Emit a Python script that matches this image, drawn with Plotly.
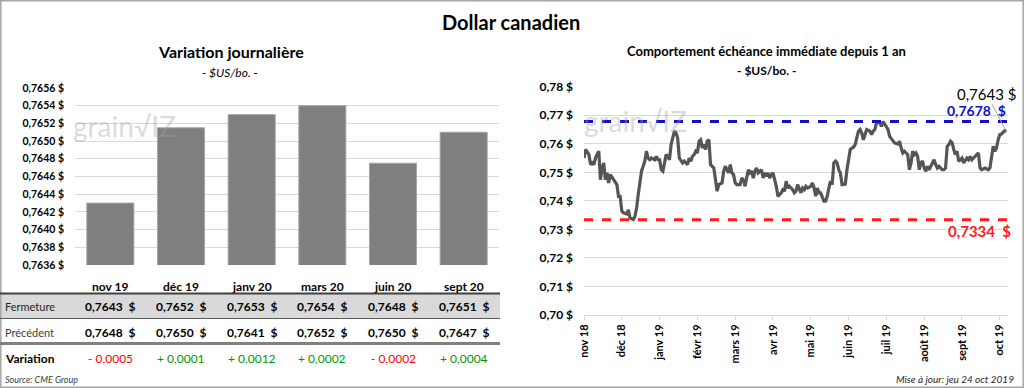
import plotly.graph_objects as go

# ---------------- Data ----------------
# Left panel: daily variation by contract month
echeances = ["nov 19", "déc 19", "janv 20", "mars 20", "juin 20", "sept 20"]
cloture = [0.7643, 0.76515, 0.7653, 0.7654, 0.76475, 0.7651]          # bar heights
fermeture = [0.7643, 0.7652, 0.7653, 0.7654, 0.7648, 0.7651]          # table (rounded)
precedent = [0.7648, 0.7650, 0.7641, 0.7652, 0.7650, 0.7647]
variation = [-0.0005, 0.0001, 0.0012, 0.0002, -0.0002, 0.0004]

# Right panel: nearby contract over 1 year (trading-session index, price)
seance = [0, 1, 3, 4, 5, 6, 7, 9, 10, 11, 12, 13, 14, 15, 16, 18, 20, 21, 22, 23,
          24, 26, 27, 28, 30, 31, 32, 33, 34, 35, 37, 38, 39, 40, 41, 43, 44, 45, 46, 47,
          48, 50, 51, 52, 53, 54, 55, 56, 57, 58, 60, 61, 63, 64, 65, 66, 67, 68, 69, 70,
          71, 72, 73, 74, 75, 76, 77, 78, 79, 80, 81, 82, 84, 85, 86, 87, 88, 89, 90, 91,
          92, 93, 95, 96, 97, 98, 99, 100, 101, 102, 103, 104, 105, 106, 108, 109, 110, 111, 112, 113,
          114, 115, 116, 117, 118, 119, 120, 121, 122, 123, 124, 125, 127, 128, 129, 130, 131, 132, 133, 134,
          135, 136, 138, 139, 140, 141, 142, 143, 144, 145, 146, 147, 148, 149, 150, 151, 152, 153, 154, 155,
          156, 157, 159, 160, 161, 162, 163, 164, 165, 166, 167, 168, 169, 170, 171, 172, 174, 175, 176, 177,
          178, 179, 180, 181, 182, 184, 185, 186, 188, 189, 191, 192, 193, 194, 195, 196, 197, 198, 199, 200,
          201, 202, 203, 204, 205, 206, 207, 208, 209, 210, 211, 212, 213, 214, 215, 216, 218, 219, 220, 221,
          222, 223, 224, 225, 226, 227, 228, 229, 230, 231, 232, 233, 234, 235, 236, 237, 238, 239, 240, 241,
          242, 244, 246, 247, 248, 249, 250, 251, 252, 253, 254, 255, 256, 257]
cours = [0.7550, 0.7580, 0.7562, 0.7527, 0.7533, 0.7527, 0.7550, 0.7574, 0.7474, 0.7515,
         0.7533, 0.7474, 0.7498, 0.7463, 0.7492, 0.7474, 0.7457, 0.7416, 0.7416, 0.7364,
         0.7358, 0.7354, 0.7369, 0.7340, 0.7334, 0.7346, 0.7375, 0.7422, 0.7463, 0.7504,
         0.7539, 0.7574, 0.7550, 0.7544, 0.7550, 0.7544, 0.7556, 0.7544, 0.7544, 0.7509,
         0.7504, 0.7562, 0.7556, 0.7544, 0.7597, 0.7626, 0.7644, 0.7638, 0.7620, 0.7550,
         0.7533, 0.7539, 0.7527, 0.7550, 0.7539, 0.7556, 0.7562, 0.7574, 0.7568, 0.7609,
         0.7614, 0.7585, 0.7597, 0.7580, 0.7609, 0.7614, 0.7527, 0.7521, 0.7515, 0.7474,
         0.7434, 0.7457, 0.7463, 0.7504, 0.7521, 0.7509, 0.7498, 0.7527, 0.7498, 0.7492,
         0.7463, 0.7457, 0.7457, 0.7480, 0.7474, 0.7451, 0.7486, 0.7509, 0.7498, 0.7504,
         0.7480, 0.7504, 0.7515, 0.7498, 0.7509, 0.7480, 0.7498, 0.7486, 0.7498, 0.7480,
         0.7492, 0.7498, 0.7474, 0.7451, 0.7416, 0.7422, 0.7428, 0.7439, 0.7434, 0.7469,
         0.7445, 0.7451, 0.7439, 0.7428, 0.7434, 0.7457, 0.7439, 0.7428, 0.7445, 0.7439,
         0.7451, 0.7445, 0.7451, 0.7463, 0.7445, 0.7416, 0.7445, 0.7428, 0.7428, 0.7416,
         0.7399, 0.7399, 0.7416, 0.7445, 0.7469, 0.7457, 0.7533, 0.7539, 0.7533, 0.7509,
         0.7498, 0.7457, 0.7459, 0.7509, 0.7544, 0.7580, 0.7585, 0.7588, 0.7597, 0.7626,
         0.7644, 0.7650, 0.7638, 0.7614, 0.7632, 0.7650, 0.7644, 0.7632, 0.7644, 0.7650,
         0.7673, 0.7676, 0.7673, 0.7661, 0.7678, 0.7661, 0.7650, 0.7626, 0.7609, 0.7603,
         0.7599, 0.7609, 0.7585, 0.7568, 0.7574, 0.7568, 0.7562, 0.7509, 0.7533, 0.7574,
         0.7562, 0.7568, 0.7556, 0.7509, 0.7533, 0.7539, 0.7515, 0.7504, 0.7521, 0.7509,
         0.7521, 0.7527, 0.7544, 0.7527, 0.7515, 0.7521, 0.7509, 0.7509, 0.7515, 0.7591,
         0.7597, 0.7609, 0.7603, 0.7580, 0.7562, 0.7574, 0.7539, 0.7544, 0.7550, 0.7533,
         0.7544, 0.7550, 0.7544, 0.7556, 0.7544, 0.7550, 0.7556, 0.7562, 0.7568, 0.7515,
         0.7509, 0.7515, 0.7509, 0.7515, 0.7550, 0.7591, 0.7574, 0.7585, 0.7614, 0.7632,
         0.7634, 0.7641, 0.7646, 0.7643]
mois = ["nov 18", "déc 18", "janv 19", "févr 19", "mars 19", "avr 19",
        "mai 19", "juin 19", "juil 19", "août 19", "sept 19", "oct 19"]
seances_par_mois = 23
haut_1an = 0.7678
bas_1an = 0.7334
dernier = 0.7643

# ---------------- Helpers ----------------
W, H = 1024, 388
FONT = "Lato"


def px_x(p):
    return p / W


def px_y(p):
    return 1 - p / H


def fr(v, nd=4):
    return f"{v:.{nd}f}".replace(".", ",")


fig = go.Figure()

# Left bars
fig.add_trace(go.Bar(
    x=echeances, y=cloture, xaxis="x", yaxis="y",
    marker=dict(color="#7f7f7f", line=dict(color="#a6a6a6", width=1)),
    hoverinfo="skip", showlegend=False,
))

# Right line
fig.add_trace(go.Scatter(
    x=seance, y=cours, xaxis="x2", yaxis="y2", mode="lines",
    line=dict(color="#555555", width=3.2), hoverinfo="skip", showlegend=False,
))

tickvals2 = [i * seances_par_mois for i in range(len(mois))]

fig.update_layout(
    width=W, height=H, autosize=False,
    margin=dict(l=0, r=0, t=0, b=0, pad=0),
    paper_bgcolor="white", plot_bgcolor="white",
    separators=", ",
    font=dict(family=FONT, color="#000000"),
    bargap=0.334,
    xaxis=dict(domain=[px_x(75), px_x(499)], showticklabels=False, showgrid=False,
               zeroline=False, showline=False, ticks="", fixedrange=True, automargin=False),
    yaxis=dict(domain=[px_y(265), px_y(88)], range=[0.7636, 0.7656], automargin=False,
               tick0=0.7636, dtick=0.0002, tickformat=".4f", ticksuffix=" $",
               gridcolor="#d9d9d9", gridwidth=1, zeroline=False, showline=False,
               ticks="", ticklabelstandoff=10,
               tickfont=dict(family=FONT, size=10.5, color="#000000", weight="bold")),
    xaxis2=dict(domain=[px_x(584), px_x(1008)], range=[0, 258], anchor="y2", automargin=False,
                tickvals=tickvals2, ticktext=mois, tickangle=-90,
                showgrid=False, zeroline=False, showline=True, linecolor="#d9d9d9",
                ticks="outside", ticklen=4, tickcolor="#d9d9d9",
                tickfont=dict(family=FONT, size=11, color="#000000", weight="bold")),
    yaxis2=dict(domain=[px_y(315), px_y(86.7)], range=[0.70, 0.78], anchor="x2", automargin=False,
                dtick=0.01, tickformat=".2f", ticksuffix=" $",
                gridcolor="#d9d9d9", gridwidth=1, zeroline=False, showline=False,
                ticks="", ticklabelstandoff=10,
                tickfont=dict(family=FONT, size=12, color="#000000", weight="bold")),
)

shapes = []
ann = []


def text(t, xp, yp, size, color="#000000", xanchor="center", xref="paper"):
    ann.append(dict(text=t, x=(px_x(xp) if xref == "paper" else xp), y=px_y(yp),
                    xref=xref, yref="paper", xanchor=xanchor, yanchor="middle",
                    showarrow=False, font=dict(family=FONT, size=size, color=color)))


# Outer border
shapes.append(dict(type="rect", xref="paper", yref="paper", x0=0.0008, x1=0.9992,
                   y0=0.002, y1=0.998, line=dict(color="#a6a6a6", width=1.5)))

# High / low dashed lines
shapes.append(dict(type="line", xref="x2 domain", yref="y2", x0=0, x1=1,
                   y0=haut_1an, y1=haut_1an, line=dict(color="#1010c8", width=3, dash="dash")))
shapes.append(dict(type="line", xref="x2 domain", yref="y2", x0=0, x1=1,
                   y0=bas_1an, y1=bas_1an, line=dict(color="#ff1a1a", width=3, dash="dash")))

# Table background and rules
tx0, tx1 = 0, px_x(500)
shapes.append(dict(type="rect", xref="paper", yref="paper", x0=tx0, x1=tx1,
                   y0=px_y(318), y1=px_y(294), fillcolor="#d9d9d9", line=dict(width=0),
                   layer="below"))
shapes.append(dict(type="line", xref="paper", yref="paper", x0=tx0, x1=tx1,
                   y0=px_y(293.5), y1=px_y(293.5), line=dict(color="#404040", width=2)))
shapes.append(dict(type="line", xref="paper", yref="paper", x0=tx0, x1=tx1,
                   y0=px_y(318.5), y1=px_y(318.5), line=dict(color="#595959", width=1)))
shapes.append(dict(type="line", xref="paper", yref="paper", x0=tx0, x1=tx1,
                   y0=px_y(343.5), y1=px_y(343.5), line=dict(color="#808080", width=3)))

# Titles
text("<b>Dollar canadien</b>", 511, 22, 20)
text("<b>Variation journalière</b>", 231, 52, 16)
text("<i>- $US/bo. -</i>", 230, 72, 12)
text("<b>Comportement échéance immédiate depuis 1 an</b>", 766, 51, 13)
text("<b>- $US/bo. -</b>", 766, 70, 12)

# Watermarks
for xc, yc in [(124, 126), (635, 121)]:
    text("grain√IZ", xc, yc, 28, color="rgba(160,160,160,0.4)")

# Right annotations
ann.append(dict(text="0,7643 $", x=seance[-1], y=dernier, xref="x2", yref="y2",
                showarrow=True, arrowhead=0, arrowwidth=1, arrowcolor="#a6a6a6",
                ax=-20, ay=-38, xanchor="center", yanchor="middle",
                font=dict(family=FONT, size=15, color="#000000")))
text("<b>" + fr(haut_1an) + "\u00a0 $</b>", 1008, 110, 14, color="#1010c8", xanchor="right")
text("<b>" + fr(bas_1an) + "\u00a0 $</b>", 1013, 231, 15, color="#ff1a1a", xanchor="right")

# Table
text("Fermeture", 3, 306, 11, color="#262626", xanchor="left")
text("Précédent", 3, 332, 11, color="#404040", xanchor="left")
text("<b>Variation</b>", 3, 358, 12, xanchor="left")
for i, cat in enumerate(echeances):
    text("<b>" + cat + "</b>", cat, 286, 12, xref="x")
    text("<b>" + fr(fermeture[i]) + "\u00a0 $</b>", cat, 306, 12, xref="x")
    text("<b>" + fr(precedent[i]) + "\u00a0 $</b>", cat, 332, 12, xref="x")
    v = variation[i]
    sign = "+" if v > 0 else "-"
    col = "#009a00" if v > 0 else "#ff0000"
    text(sign + " " + fr(abs(v)), cat, 358, 12, color=col, xref="x")

# Footers
text("<i>Source: CME Group</i>", 3, 379, 9, color="#404040", xanchor="left")
text("<i>Mise à jour: jeu 24 oct 2019</i>", 1016, 379, 10, color="#262626", xanchor="right")

fig.update_layout(shapes=shapes, annotations=ann)
fig.write_html("out.html", config={"displayModeBar": False},
               post_script="document.body.style.margin='0';document.body.style.overflow='hidden';")
